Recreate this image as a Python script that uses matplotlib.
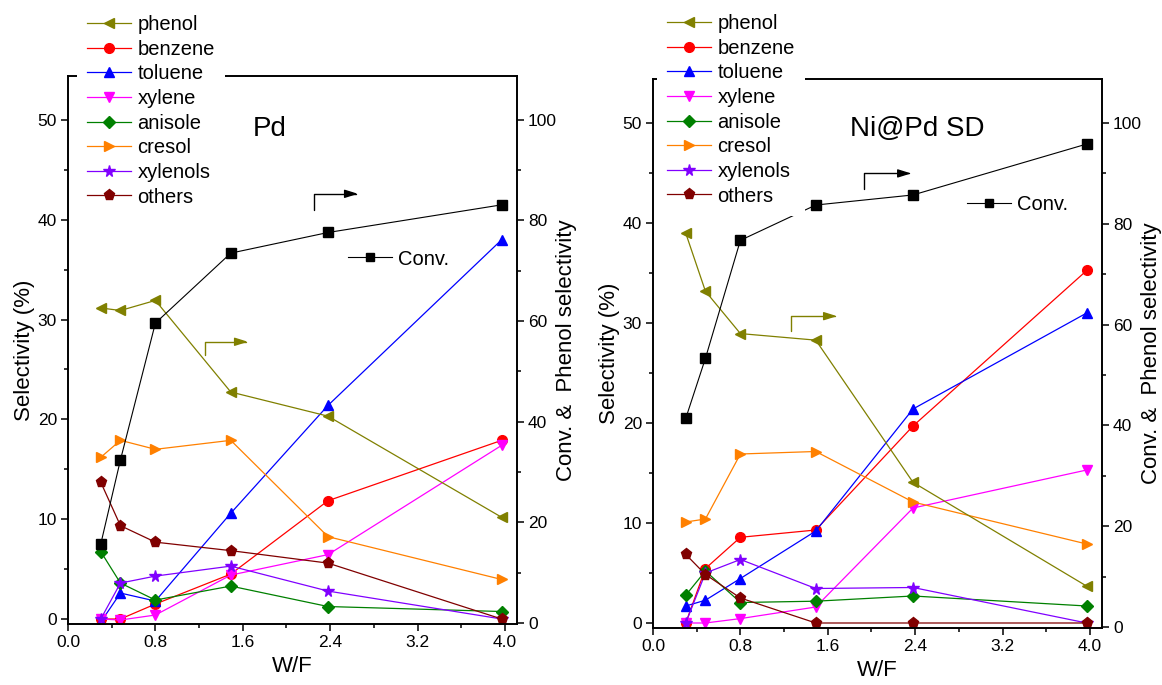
import matplotlib
matplotlib.use("Agg")
import matplotlib.pyplot as plt
from matplotlib.ticker import MultipleLocator

plt.rcParams['font.family'] = ['Liberation Sans', 'DejaVu Sans']

# W/F values (same for both catalysts)
wf = [0.3, 0.48, 0.8, 1.49, 2.38, 3.97]

# Pd catalyst
conv_pd = [15.7, 32.4, 59.6, 73.5, 77.6, 83.1]
phenol_pd = [62.6, 62.1, 64.1, 45.9, 41.1, 21.0]
benzene_pd = [0.0, 0.0, 1.5, 4.5, 11.85, 17.9]
toluene_pd = [-0.3, 2.6, 1.8, 10.6, 21.4, 38.0]
xylene_pd = [0.0, -0.1, 0.4, 4.4, 6.45, 17.4]
anisole_pd = [6.75, 3.6, 1.9, 3.3, 1.25, 0.75]
cresol_pd = [16.2, 17.9, 17.0, 17.9, 8.25, 3.96]
xylenols_pd = [0.0, 3.6, 4.3, 5.3, 2.8, 0.0]
others_pd = [13.7, 9.35, 7.7, 6.85, 5.6, 0.0]

# Ni@Pd SD catalyst
conv_ni = [41.4, 53.3, 76.7, 83.7, 85.7, 95.8]
phenol_ni = [78.1, 66.6, 58.2, 56.9, 28.7, 8.1]
benzene_ni = [0.0, 5.45, 8.57, 9.3, 19.7, 35.25]
toluene_ni = [1.7, 2.28, 4.45, 9.2, 21.4, 31.0]
xylene_ni = [0.0, 0.0, 0.44, 1.6, 11.5, 15.3]
anisole_ni = [2.78, 5.2, 2.05, 2.18, 2.7, 1.7]
cresol_ni = [10.1, 10.4, 16.9, 17.15, 12.1, 7.9]
xylenols_ni = [0.0, 5.0, 6.35, 3.45, 3.55, 0.0]
others_ni = [6.86, 4.85, 2.5, 0.0, 0.0, 0.0]

left_names = ["benzene", "toluene", "xylene", "anisole", "cresol", "xylenols", "others"]
colors = {"phenol": "#808000", "benzene": "#FF0000", "toluene": "#0000FF",
          "xylene": "#FF00FF", "anisole": "#008000", "cresol": "#FF8000",
          "xylenols": "#8000FF", "others": "#800000"}
markers = {"phenol": "<", "benzene": "o", "toluene": "^", "xylene": "v",
           "anisole": "D", "cresol": ">", "xylenols": "*", "others": "p"}
msizes = {"phenol": 7.5, "benzene": 7, "toluene": 7.5, "xylene": 7.5,
          "anisole": 6, "cresol": 7.5, "xylenols": 8.5, "others": 8}

W, H = 1162, 685
fig = plt.figure(figsize=(W / 100, H / 100), dpi=100)


def panel(box, series, conv, phenol, title, title_pos, arrows, conv_lab, leg_xy):
    ax = fig.add_axes(box)
    ax2 = ax.twinx()
    handles = []
    for name, vals in zip(left_names, series):
        h, = ax.plot(wf, vals, color=colors[name], marker=markers[name],
                     markersize=msizes[name], lw=0.9, label=name)
        handles.append(h)
    hp, = ax2.plot(wf, phenol, color=colors["phenol"], marker="<",
                   markersize=msizes["phenol"], lw=0.9, label="phenol")
    hc, = ax2.plot(wf, conv, color="black", marker="s", markersize=7,
                   lw=0.8, label="Conv.")

    ax.set_xlim(0, 4.11)
    ax.set_ylim(-0.5, 54.4)
    ax2.set_ylim(-0.2, 108.7)
    ax.xaxis.set_major_locator(MultipleLocator(0.8))
    ax.xaxis.set_minor_locator(MultipleLocator(0.4))
    ax.yaxis.set_major_locator(MultipleLocator(10))
    ax.yaxis.set_minor_locator(MultipleLocator(5))
    ax2.yaxis.set_major_locator(MultipleLocator(20))
    ax2.yaxis.set_minor_locator(MultipleLocator(10))
    ax.set_yticks(range(0, 51, 10))
    ax2.set_yticks(range(0, 101, 20))
    for a in (ax, ax2):
        a.tick_params(which="major", direction="out", length=5, width=1.1,
                      labelsize=12.5, pad=3)
        a.tick_params(which="minor", direction="out", length=3, width=1.1)
        for s in a.spines.values():
            s.set_linewidth(1.2)
    ax.set_xticklabels(["%.1f" % t for t in ax.get_xticks()])

    ax.set_xlabel("W/F", fontsize=16, labelpad=4)
    ax.set_ylabel("Selectivity (%)", fontsize=16, labelpad=2)
    ax2.set_ylabel("Conv. &  Phenol selectivity", fontsize=16, labelpad=-1)

    ax.text(title_pos[0], title_pos[1], title, transform=ax.transAxes,
            fontsize=20, ha="center", va="center")

    for (xa, ya, xb, yb, c) in arrows:
        ax.annotate("", xy=(xb, yb), xytext=(xa, ya), xycoords="axes fraction",
                    textcoords="axes fraction",
                    arrowprops=dict(arrowstyle="-|>,head_length=0.8,head_width=0.25",
                                    color=c, lw=1.0, shrinkA=0, shrinkB=0,
                                    connectionstyle="angle,angleA=90,angleB=0,rad=0"))

    leg = ax2.legend([hp] + handles, ["phenol"] + left_names, loc="upper left",
                     bbox_to_anchor=leg_xy, bbox_transform=fig.transFigure,
                     fontsize=14.5, handlelength=2.2, handletextpad=0.3,
                     labelspacing=0.28, borderpad=0.5, borderaxespad=0,
                     frameon=True, fancybox=False, framealpha=1,
                     facecolor="white", edgecolor="none")
    leg.set_zorder(10)
    ax2.add_artist(leg)
    ax2.legend([hc], ["Conv."], loc="center left",
               bbox_to_anchor=conv_lab, bbox_transform=fig.transFigure,
               fontsize=14.5, handlelength=2.2, handletextpad=0.3,
               borderpad=0, borderaxespad=0, frameon=False, markerscale=0.85)
    return ax, ax2


series_pd = [benzene_pd, toluene_pd, xylene_pd, anisole_pd, cresol_pd, xylenols_pd, others_pd]
series_ni = [benzene_ni, toluene_ni, xylene_ni, anisole_ni, cresol_ni, xylenols_ni, others_ni]

panel([68 / W, 1 - 624 / H, 449 / W, 548 / H], series_pd, conv_pd, phenol_pd,
      "Pd", (0.45, 0.903),
      [(0.305, 0.491, 0.401, 0.515, "#808000"), (0.548, 0.755, 0.646, 0.785, "black")],
      (348 / W, 1 - 259 / H), (77 / W, 1 - 5 / H))

panel([653 / W, 1 - 628 / H, 449 / W, 549 / H], series_ni, conv_ni, phenol_ni,
      "Ni@Pd SD", (0.588, 0.909),
      [(0.307, 0.541, 0.410, 0.568, "#808000"), (0.470, 0.800, 0.575, 0.828, "black")],
      (967 / W, 1 - 205 / H), (657 / W, 1 - 4 / H))

fig.savefig("out.png", dpi=100)
